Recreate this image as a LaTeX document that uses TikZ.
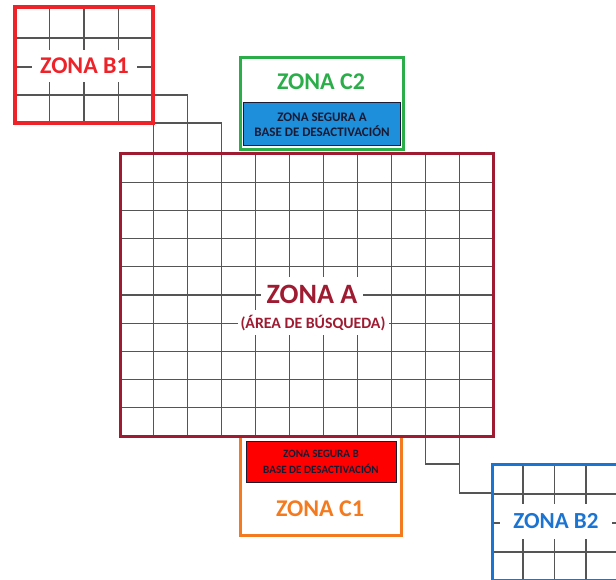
\documentclass[tikz,border=0pt]{standalone}
\usepackage{fontspec}
\setmainfont{Carlito}
\definecolor{zA}{HTML}{9E1B32}
\definecolor{zB1}{HTML}{EE2229}
\definecolor{zC2}{HTML}{2BAE4A}
\definecolor{zBlue}{HTML}{1E8FDB}
\definecolor{zC1}{HTML}{F47A20}
\definecolor{zRed}{HTML}{FF0000}
\definecolor{zB2}{HTML}{1C74D2}
\definecolor{gridc}{HTML}{555555}
\definecolor{navy}{HTML}{1A1A33}
\begin{document}
\begin{tikzpicture}[x=1pt,y=-1pt,
  gridline/.style={draw=gridc,line width=1.1pt},
  zoneborder/.style={line width=3pt},
  lbl/.style={fill=white,inner sep=0pt,text depth=0pt},
  bigtxt/.style={font=\bfseries\fontsize{#1}{#1}\selectfont}]
\useasboundingbox (0,0) rectangle (616,580);
\clip (0,0) rectangle (616,580);
\fill[white] (0,0) rectangle (616,580);
% grid of zone A
\foreach \i in {1,...,10} \draw[gridline] ({120+\i*33.909},154) -- ++(0,282);
\foreach \j in {1,...,9} \draw[gridline] (120,{154+\j*28.2}) -- ++(373,0);
% grid of zone B1
\foreach \x in {49.5,84,118.5} \draw[gridline] (\x,7) -- (\x,123);
\foreach \y in {38,67,95} \draw[gridline] (15,\y) -- (153,\y);
% staircase B1 -> A
\coordinate (s1a) at (153.9,95);
\coordinate (s1b) at (187.8,95);
\coordinate (s1c) at (187.8,154);
\coordinate (s1d) at (153.9,123);
\coordinate (s1e) at (221.7,123);
\coordinate (s1f) at (221.7,154);
\coordinate (s1g) at (153.9,154);
\draw[gridline] (s1a) -- (s1b) -- (s1c);
\draw[gridline] (s1d) -- (s1e) -- (s1f);
\draw[gridline] (s1d) -- (s1g);
% staircase A -> B2
\coordinate (s2a) at (425.2,436);
\coordinate (s2b) at (425.2,464);
\coordinate (s2c) at (459.1,464);
\coordinate (s2d) at (459.1,436);
\coordinate (s2e) at (459.1,493);
\coordinate (s2f) at (492,493);
\draw[gridline] (s2a) -- (s2b) -- (s2c);
\draw[gridline] (s2d) -- (s2e) -- (s2f);
% grid of zone B2
\foreach \x in {523,554.5,586} \draw[gridline] (\x,464) -- (\x,580);
\foreach \y in {494,523,552} \draw[gridline] (492,\y) -- (630,\y);
% zone borders
\draw[zoneborder,draw=zC1] (240,437) -- (240,535) -- (401,535) -- (401,437);
\draw[zoneborder,draw=zA] (120,154) rectangle (493,436);
\draw[zoneborder,draw=zB1,line width=3.5pt] (15,7) rectangle (153,123);
\draw[zoneborder,draw=zC2] (240.5,57.5) rectangle (403,150);
\draw[zoneborder,draw=zB2] (492,464) rectangle (640,580);
% safe zones
\node[draw=navy,fill=zBlue,line width=1pt,minimum width=157,minimum height=43,inner sep=0pt] (segA) at (322,124.5) {};
\node[draw=navy,fill=zRed,line width=1pt,minimum width=150,minimum height=41,inner sep=0pt] (segB) at (321,461.5) {};
% labels
\node[lbl,minimum width=105,minimum height=32,text=zB1,bigtxt=24] (tB1) at (84.5,66) {ZONA B1};
\node[inner sep=0pt,text depth=0pt,text=zC2,bigtxt=24] (tC2) at (321,82) {ZONA C2};
\node[lbl,minimum width=102,minimum height=33,text=zA,bigtxt=28] (tA) at (312,294) {ZONA A};
\node[lbl,minimum width=151,minimum height=25,text=zA,bigtxt=15.8] (tA2) at (313,322) {(ÁREA DE BÚSQUEDA)};
\node[inner sep=0pt,text=navy,align=center,font=\bfseries\fontsize{13}{14.6}\selectfont] (tSA) at (segA.center) {ZONA SEGURA A\\BASE DE DESACTIVACIÓN};
\node[inner sep=0pt,text=navy,align=center,font=\bfseries\fontsize{11.1}{16}\selectfont] (tSB) at (segB.center) {ZONA SEGURA B\\BASE DE DESACTIVACIÓN};
\node[inner sep=0pt,text depth=0pt,text=zC1,bigtxt=24] (tC1) at (320,508.5) {ZONA C1};
\node[lbl,minimum width=112,minimum height=35,text=zB2,bigtxt=23] (tB2) at (556,521) {ZONA B2};
\end{tikzpicture}
\end{document}
